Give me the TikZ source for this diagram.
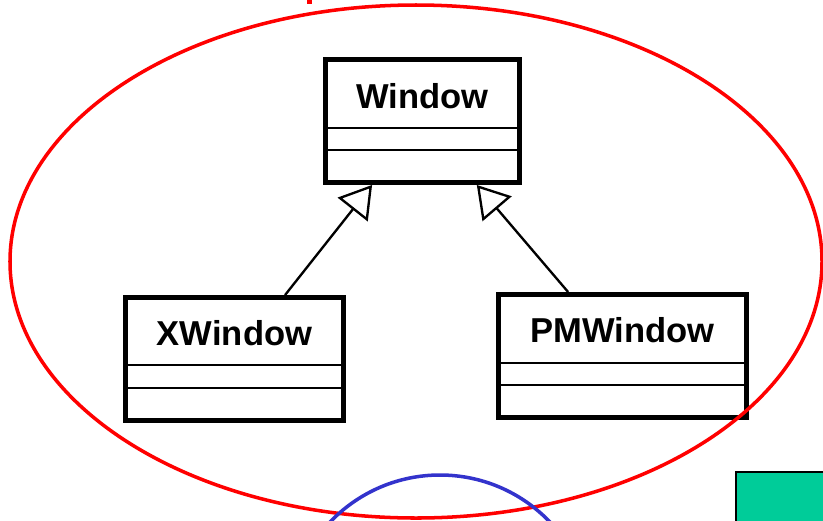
\documentclass[tikz,border=0pt]{standalone}
\usepackage{fontspec}
\setmainfont{Liberation Sans}
\usetikzlibrary{arrows.meta,calc}
\definecolor{ringred}{RGB}{255,0,0}
\definecolor{ringblue}{RGB}{51,51,204}
\definecolor{notegreen}{RGB}{0,204,153}
\tikzset{
  classbox/.style = {rectangle, draw, line width=4.2pt, fill=white, minimum height=3.69cm, inner sep=0pt},
  title/.style    = {font=\fontsize{29.5}{31}\selectfont\bfseries, inner sep=0pt},
  divider/.style  = {line width=1.9pt},
  inherit/.style  = {-{Triangle[open, length=9.4mm, width=11.4mm]}, line width=2pt},
  ring/.style     = {line width=3pt},
}
\begin{document}
\begin{tikzpicture}[x=0.03cm, y=-0.03cm]

  \useasboundingbox (0,0) rectangle (823,520);
  \clip (0,0) rectangle (823,520);

  \node[classbox, minimum width=5.82cm] (win) at (422.5,121)   {};
  \node[classbox, minimum width=6.54cm] (xw)  at (234.5,359)   {};
  \node[classbox, minimum width=7.44cm] (pmw) at (622.5,356)   {};

  \node[title] (wint)  at ([yshift=-1.17cm]win.north) {Window};
  \node[title] (xwt)   at ([yshift=-1.14cm]xw.north)  {XWindow};
  \node[title] (pmwt)  at ([yshift=-1.14cm]pmw.north) {PMWindow};

  % attribute / operation compartments
  \draw[divider] (win.west |- 0,128) -- (win.east |- 0,128);
  \draw[divider] (win.west |- 0,150) -- (win.east |- 0,150);
  \draw[divider] (xw.west |- 0,365)  -- (xw.east |- 0,365);
  \draw[divider] (xw.west |- 0,388)  -- (xw.east |- 0,388);
  \draw[divider] (pmw.west |- 0,363) -- (pmw.east |- 0,363);
  \draw[divider] (pmw.west |- 0,385) -- (pmw.east |- 0,385);

  \draw[inherit] (xw)  -- (win);
  \draw[inherit] (pmw) -- (win);

  \draw[ring, draw=ringred] (416,261.5) ellipse [x radius=406, y radius=256.5];
  \fill[ringred] (307,0) rectangle (312,4);
  \draw[ring, draw=ringblue] (440,627) circle [radius=152];
  \draw[line width=1.2pt, fill=notegreen] (736,472) rectangle (840,540);

\end{tikzpicture}
\end{document}
